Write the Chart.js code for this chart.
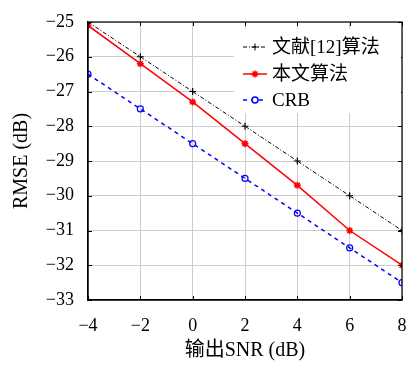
<!DOCTYPE html>
<html>
<head>
<meta charset="utf-8">
<script src="https://cdn.jsdelivr.net/npm/chart.js@4.4.1/dist/chart.umd.min.js"></script>
<style>
  html, body { margin: 0; padding: 0; background: #fff; }
  #wrap { width: 408px; height: 368px; }
</style>
</head>
<body>
<div id="wrap"><canvas id="rmseCanvas" width="408" height="368"></canvas></div>
<script>
// values
const snr = [-4, -2, 0, 2, 4, 6, 8];
const ref12 = [-25, -26, -27, -28, -29, -30, -31];
const ours = [-25.1, -26.2, -27.3, -28.5, -29.7, -31.0, -32.0];
const crb = [-26.5, -27.5, -28.5, -29.5, -30.5, -31.5, -32.5];
const xTicks = [-4, -2, 0, 2, 4, 6, 8];
const yTicks = [-33, -32, -31, -30, -29, -28, -27, -26, -25];

const serif = "'Liberation Serif', 'Noto Sans CJK SC', serif";
const minus = v => String(v).replace('-', '\u2212');

function pts(ys) { return snr.map((x, i) => ({ x: x, y: ys[i] })); }

const series = [
  { label: '文献[12]算法', data: pts(ref12), color: '#000', dash: [4, 2, 1, 2], width: 1, style: 'cross', r: 3.5 },
  { label: '本文算法', data: pts(ours), color: '#ff0000', dash: [], width: 1.5, style: 'star', r: 3.5 },
  { label: 'CRB', data: pts(crb), color: '#0000ff', dash: [4, 4], width: 1.5, style: 'circle', r: 3 }
];

// frame, inward ticks and legend box
const framePlugin = {
  id: 'frame',
  afterDraw(chart) {
    const ctx = chart.ctx, a = chart.chartArea;
    const xs = chart.scales.x, ys = chart.scales.y;
    ctx.save();
    ctx.strokeStyle = '#000';
    ctx.lineWidth = 1.2;
    ctx.strokeRect(a.left, a.top, a.right - a.left, a.bottom - a.top);
    ctx.lineWidth = 1;
    ctx.beginPath();
    xTicks.forEach(v => {
      const p = Math.round(xs.getPixelForValue(v)) + 0.5;
      ctx.moveTo(p, a.bottom); ctx.lineTo(p, a.bottom - 4);
      ctx.moveTo(p, a.top); ctx.lineTo(p, a.top + 4);
    });
    yTicks.forEach(v => {
      const p = Math.round(ys.getPixelForValue(v)) + 0.5;
      ctx.moveTo(a.left, p); ctx.lineTo(a.left + 4, p);
      ctx.moveTo(a.right, p); ctx.lineTo(a.right - 4, p);
    });
    ctx.stroke();

    // legend
    const lx = 234, ly = 29, lw = a.right - 1 - lx, lh = 84;
    ctx.fillStyle = '#fff';
    ctx.fillRect(lx, ly, lw, lh);
    ctx.font = "19px " + serif;
    ctx.textBaseline = 'middle';
    const rows = [47, 74, 100];
    series.forEach((s, i) => {
      const y = rows[i];
      ctx.strokeStyle = s.color;
      ctx.lineWidth = s.width;
      ctx.setLineDash(s.dash);
      ctx.beginPath();
      ctx.moveTo(243, y); ctx.lineTo(267, y);
      ctx.stroke();
      ctx.setLineDash([]);
      ctx.fillStyle = s.style === 'circle' ? '#fff' : s.color;
      Chart.helpers.drawPoint(ctx, { pointStyle: s.style, radius: s.r, borderWidth: 1.2 }, 255, y);
      ctx.fillStyle = '#000';
      ctx.fillText(s.label, 272, y + 1);
    });
    ctx.restore();
  }
};

new Chart(document.getElementById('rmseCanvas'), {
  type: 'line',
  data: {
    datasets: series.map(s => ({
      label: s.label,
      data: s.data,
      borderColor: s.color,
      backgroundColor: s.style === 'circle' ? 'rgba(0,0,0,0)' : s.color,
      borderWidth: s.width,
      borderDash: s.dash,
      pointStyle: s.style,
      pointRadius: s.r,
      pointBorderColor: s.color,
      pointBorderWidth: s.style === 'star' ? 1.6 : 1.2,
      tension: 0,
      fill: false
    }))
  },
  options: {
    responsive: false,
    animation: false,
    layout: { padding: { top: 22, right: 6, left: 0, bottom: 0 } },
    plugins: { legend: { display: false }, tooltip: { enabled: false } },
    scales: {
      x: {
        type: 'linear',
        min: -4, max: 8,
        afterBuildTicks: s => { s.ticks = xTicks.map(v => ({ value: v })); },
        afterFit: s => { s.height = 68; s.paddingLeft = 0; s.paddingRight = 0; },
        grid: { color: '#cccccc', drawTicks: false },
        border: { color: '#000', width: 1.2 },
        ticks: { padding: 15, color: '#000', font: { family: serif, size: 18 }, callback: v => minus(v), maxRotation: 0 },
        title: { display: true, text: '输出SNR (dB)', color: '#000', font: { family: serif, size: 20 }, padding: { top: 0, bottom: 5 } }
      },
      y: {
        min: -33, max: -25,
        afterBuildTicks: s => { s.ticks = yTicks.map(v => ({ value: v })); },
        afterFit: s => { s.width = 88; s.paddingTop = 0; s.paddingBottom = 0; },
        grid: { color: '#cccccc', drawTicks: false },
        border: { color: '#000', width: 1.2 },
        ticks: { padding: 14, color: '#000', font: { family: serif, size: 18 }, callback: v => minus(v) },
        title: { display: true, text: 'RMSE (dB)', color: '#000', font: { family: serif, size: 20 }, padding: { top: 10, bottom: 0 } }
      }
    }
  },
  plugins: [framePlugin]
});
</script>
</body>
</html>
